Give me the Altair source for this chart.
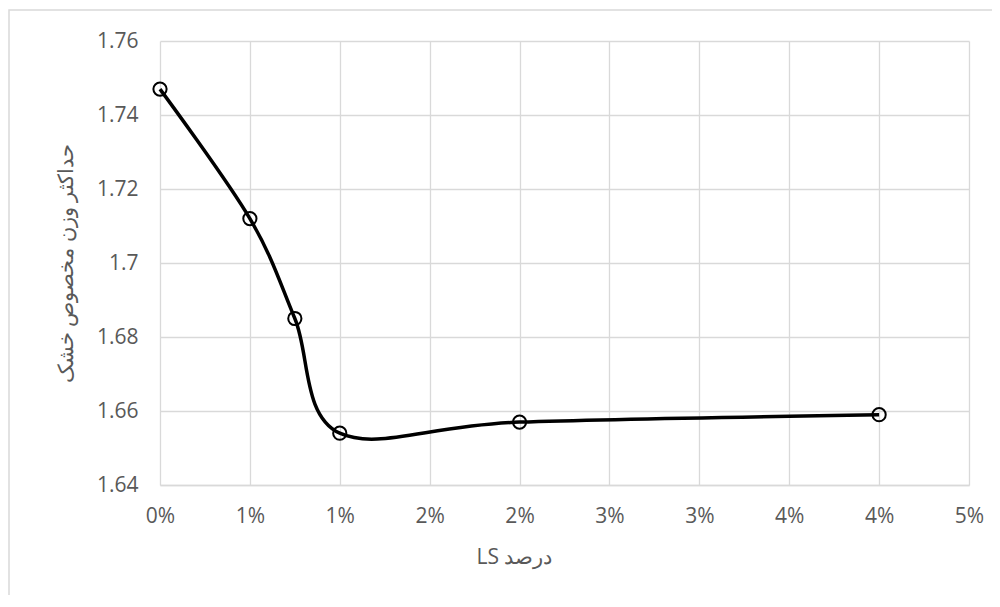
import altair as alt
import pandas as pd

# Data
ls_fraction = [0.0, 0.005, 0.0075, 0.01, 0.02, 0.04]
max_dry_density = [1.747, 1.712, 1.685, 1.654, 1.657, 1.659]
x_ticks = [0.0, 0.005, 0.01, 0.015, 0.02, 0.025, 0.03, 0.035, 0.04, 0.045]
y_ticks = [1.64, 1.66, 1.68, 1.70, 1.72, 1.74, 1.76]

# written so that the Persian word is displayed to the left of "LS"
x_title = "LS درصد"
y_title = "حداکثر وزن مخصوص خشک"

df = pd.DataFrame({"ls": ls_fraction, "gd": max_dry_density})

FONT = "Open Sans"
TXT = "#595959"
GRID = "#d9d9d9"

x_enc = alt.X(
    "ls:Q",
    scale=alt.Scale(domain=[0, 0.045], nice=False, zero=False),
    axis=alt.Axis(
        values=x_ticks,
        labelExpr="ceil(round(datum.value*200)/2) + '%'",
        labelFlush=False,
        title=x_title,
        titleX=354,
        titleAlign="center",
        grid=True,
        ticks=False,
        domain=True,
        domainColor=GRID,
        domainWidth=1.3,
        labelPadding=20,
        titlePadding=20,
    ),
)
y_enc = alt.Y(
    "gd:Q",
    scale=alt.Scale(domain=[1.64, 1.76], nice=False, zero=False),
    axis=alt.Axis(
        values=y_ticks,
        format=".2~f",
        title=y_title,
        grid=True,
        ticks=False,
        domain=False,
        labelFlush=False,
        labelPadding=22,
        titlePadding=20,
    ),
)

line = alt.Chart(df).mark_line(
    interpolate="cardinal", color="black", strokeWidth=3.5
).encode(x=x_enc, y=y_enc)

points = alt.Chart(df).mark_point(
    shape="circle", filled=False, color="black", strokeWidth=2, size=175, opacity=1
).encode(x="ls:Q", y="gd:Q")

border = alt.Chart(alt.Data(values=[{}])).mark_rect(
    filled=False, stroke=GRID, strokeWidth=1.5, clip=False
).encode(
    x=alt.value(-151), x2=alt.value(900), y=alt.value(-31), y2=alt.value(650)
)

chart = (
    alt.layer(border, line, points)
    .properties(
        width=809,
        height=444,
        padding={"left": 152, "top": 33, "right": 23, "bottom": 110},
        autosize=alt.AutoSizeParams(type="none"),
    )
    .configure_view(stroke=None)
    .configure_axis(
        labelFont=FONT,
        titleFont=FONT,
        labelFontSize=21,
        titleFontSize=21,
        labelColor=TXT,
        titleColor=TXT,
        titleFontWeight="normal",
        gridColor=GRID,
        gridWidth=1.3,
    )
)

chart.save("out.html", embed_options={"renderer": "svg", "actions": False})
